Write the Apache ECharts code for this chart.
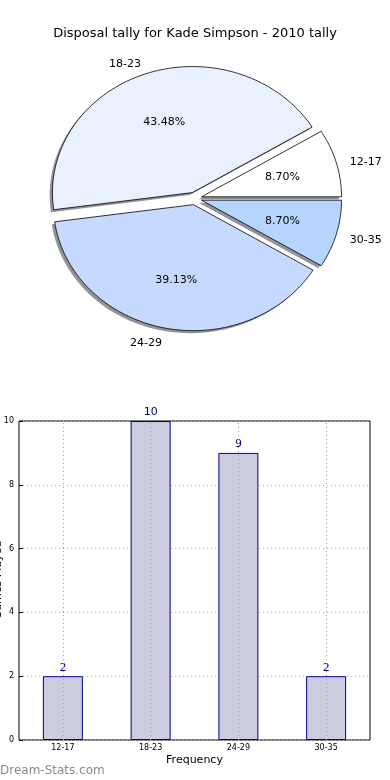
<!DOCTYPE html>
<html>
<head>
<meta charset="utf-8">
<script src="https://cdn.jsdelivr.net/npm/echarts@6/dist/echarts.min.js"></script>
<style>html,body{margin:0;padding:0;background:#fff}#c{width:390px;height:780px}</style>
</head>
<body>
<div id="c"></div>
<script>
const titleText = 'Disposal tally for Kade Simpson - 2010 tally';
const categories = ['12-17', '18-23', '24-29', '30-35'];
const tally = [2, 10, 9, 2];
const yTickMax = 10;
const yTickStep = 2;
const xAxisName = 'Frequency';
const yAxisName = 'Games Played';
const watermark = 'Dream-Stats.com';

const pieColors = ['#ffffff', '#eaf1fe', '#c6d9fe', '#b5d5fe'];
const FONT = 'DejaVu Sans';

const total = tally.reduce((a, b) => a + b, 0);
const angles = [];
let acc = 0;
tally.forEach(v => { const a0 = acc; acc += v / total * Math.PI * 2; angles.push([a0, acc]); });
const EXPLODE = 0.05;

function wedgePoints(api, i, dx, dy) {
  const [a0, a1] = angles[i];
  const mid = (a0 + a1) / 2;
  const ox = EXPLODE * Math.cos(mid) + dx, oy = EXPLODE * Math.sin(mid) + dy;
  const pts = [api.coord([ox, oy])];
  const n = Math.max(8, Math.ceil((a1 - a0) / 0.02));
  for (let k = 0; k <= n; k++) {
    const t = a0 + (a1 - a0) * k / n;
    pts.push(api.coord([ox + Math.cos(t), oy + Math.sin(t)]));
  }
  return pts;
}

const chart = echarts.init(document.getElementById('c'), null, {renderer: 'canvas'});
chart.setOption({
  animation: false,
  textStyle: {fontFamily: FONT},
  title: {text: titleText, left: 'center', top: 22, textStyle: {fontSize: 13, fontWeight: 'normal', color: '#000', fontFamily: FONT}},
  grid: [
    {left: 54.8, top: 72.5, width: 280, height: 252},
    {left: 19, right: 20, top: 421, bottom: 40, show: true, borderColor: '#000', borderWidth: 1, backgroundColor: 'transparent'}
  ],
  xAxis: [
    {gridIndex: 0, type: 'value', min: -1, max: 1, show: false},
    {gridIndex: 1, type: 'category', data: categories,
     axisLine: {show: false},
     axisTick: {show: true, alignWithLabel: true, inside: true, length: 4, lineStyle: {color: '#000'}},
     axisLabel: {fontSize: 8, color: '#000', margin: 4, fontFamily: FONT},
     splitLine: {show: false},
     name: xAxisName, nameLocation: 'middle', nameGap: 15,
     nameTextStyle: {fontSize: 11, color: '#000', fontFamily: FONT}}
  ],
  yAxis: [
    {gridIndex: 0, type: 'value', min: -1, max: 1, show: false},
    {gridIndex: 1, type: 'value', min: 0, max: yTickMax, interval: yTickStep,
     axisLine: {show: false},
     axisTick: {show: true, inside: true, length: 4, lineStyle: {color: '#000'}},
     axisLabel: {fontSize: 8, color: '#000', margin: 5, fontFamily: FONT},
     splitLine: {show: true, lineStyle: {color: '#b0b0b0', type: [1, 3], width: 1}}}
  ],
  graphic: [
    {type: 'text', left: 0, top: 765, style: {text: watermark, fontSize: 12, fontWeight: 'normal', fill: '#8a8a8a', fontFamily: FONT}},
    {type: 'text', x: 4, y: 580, rotation: Math.PI / 2, style: {text: yAxisName, fontSize: 11, fill: '#000', align: 'center', verticalAlign: 'bottom', fontFamily: FONT}}
  ],
  series: [
    {
      type: 'custom', coordinateSystem: 'cartesian2d', xAxisIndex: 0, yAxisIndex: 0, z: 1, silent: true,
      data: categories.map((c, i) => [i, tally[i]]),
      renderItem: function (params, api) {
        const i = params.dataIndex;
        return {type: 'polygon', shape: {points: wedgePoints(api, i, -0.02, -0.02)},
          style: {fill: 'rgba(40,40,48,0.5)', stroke: 'none'}};
      }
    },
    {
      type: 'custom', coordinateSystem: 'cartesian2d', xAxisIndex: 0, yAxisIndex: 0, z: 2, silent: true,
      data: categories.map((c, i) => [i, tally[i]]),
      renderItem: function (params, api) {
        const i = params.dataIndex;
        const [a0, a1] = angles[i];
        const mid = (a0 + a1) / 2;
        const c = Math.cos(mid), s = Math.sin(mid);
        const pPct = api.coord([(EXPLODE + 0.6) * c, (EXPLODE + 0.6) * s]);
        const pLab = api.coord([(EXPLODE + 1.1) * c, (EXPLODE + 1.1) * s]);
        const pct = (tally[i] / total * 100).toFixed(2) + '%';
        return {type: 'group', children: [
          {type: 'polygon', shape: {points: wedgePoints(api, i, 0, 0)},
           style: {fill: pieColors[i], stroke: '#000', lineWidth: 0.8}},
          {type: 'text', x: pPct[0], y: pPct[1] + 1, style: {text: pct, fontSize: 11, fill: '#000', align: 'center', verticalAlign: 'middle', fontFamily: FONT}},
          {type: 'text', x: pLab[0], y: pLab[1] + 2.5, style: {text: categories[i], fontSize: 11, fill: '#000', align: c > 0 ? 'left' : 'right', verticalAlign: 'middle', fontFamily: FONT}}
        ]};
      }
    },
    {
      type: 'bar', xAxisIndex: 1, yAxisIndex: 1, data: tally, barWidth: 40, z: 2,
      itemStyle: {color: '#ccccdf', borderColor: '#00008b', borderWidth: 1},
      label: {show: true, position: 'top', distance: 3, fontSize: 11, color: '#00008b', fontFamily: FONT},
      markLine: {silent: true, symbol: 'none', label: {show: false}, z: 3,
        lineStyle: {color: '#a0a0a0', type: [1, 3], width: 1},
        data: categories.map(c => ({xAxis: c}))}
    }
  ]
});
</script>
</body>
</html>
